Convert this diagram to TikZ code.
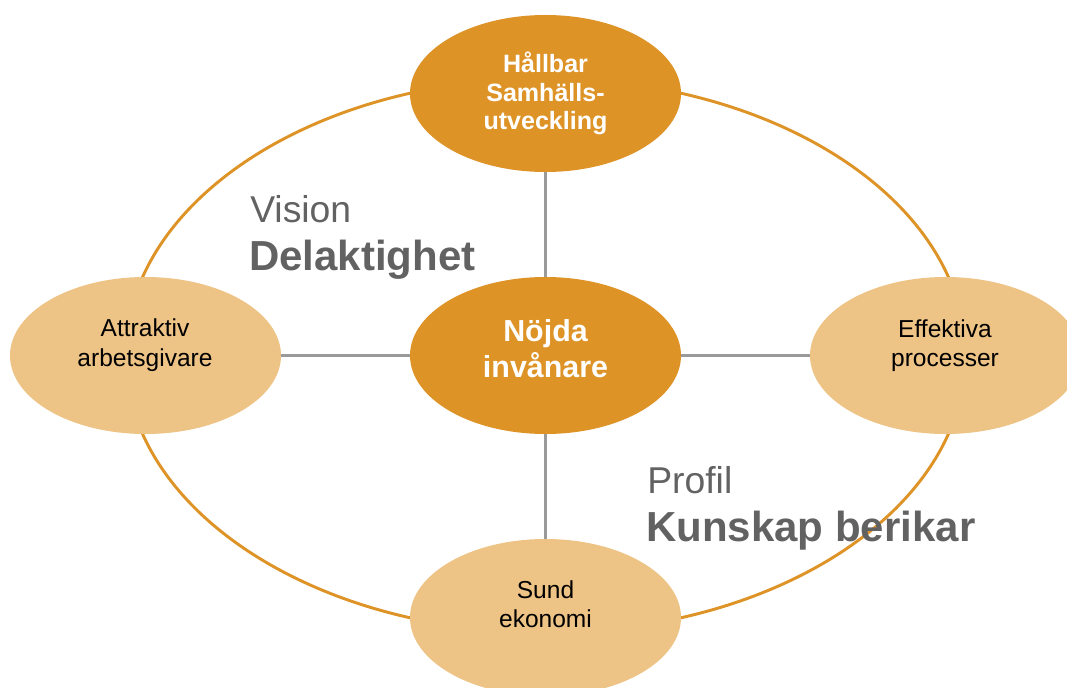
\documentclass[tikz,border=0pt]{standalone}
\usepackage{fontspec}
\setmainfont{Liberation Sans}
\usetikzlibrary{shapes.geometric}
\definecolor{darkor}{HTML}{DE9327}
\definecolor{lightor}{HTML}{EEC386}
\definecolor{txtgray}{HTML}{626262}
\definecolor{linegray}{HTML}{9A9A9A}
\tikzset{
  blob/.style={ellipse, minimum width=203.25pt, minimum height=117.75pt, inner sep=0pt},
  mainblob/.style={blob, fill=darkor},
  subblob/.style={blob, fill=lightor},
  spoke/.style={draw=linegray, line width=2.3pt},
  ring/.style={draw=darkor, line width=2.2pt},
  wtxt/.style={anchor=base, inner sep=0pt, text=white, font=\bfseries\fontsize{18.8}{22}\selectfont},
  ctxt/.style={anchor=base, inner sep=0pt, text=white, font=\bfseries\fontsize{22.8}{26}\selectfont},
  btxt/.style={anchor=base, inner sep=0pt, text=black, font=\fontsize{18.4}{22}\selectfont},
  greg/.style={anchor=base west, inner sep=0pt, text=txtgray, font=\fontsize{28}{32}\selectfont},
  gbold/.style={anchor=base west, inner sep=0pt, text=txtgray, font=\bfseries\fontsize{31.5}{36}\selectfont},
}
\begin{document}
\begin{tikzpicture}[x=0.75pt,y=-0.75pt]
\useasboundingbox (0,0) rectangle (1067,688);
\coordinate (mid) at (545.5,355.5);
\draw[ring] (mid) ellipse [x radius=315pt, y radius=207.75pt];
\node[mainblob] (top) at (545.5,93.5) {};
\node[mainblob] (ctr) at (545.5,355.5) {};
\node[subblob] (lft) at (145.5,355.5) {};
\node[subblob] (rgt) at (945.5,355.5) {};
\node[subblob] (bot) at (545.5,617.5) {};
\draw[spoke] (ctr) -- (top);
\draw[spoke] (ctr) -- (lft);
\draw[spoke] (ctr) -- (rgt);
\draw[spoke] (ctr) -- (bot);
% texts
\node[wtxt] (t1) at (545.5,73) {Hållbar};
\node[wtxt] (t2) at (545.5,102) {Samhälls-};
\node[wtxt] (t3) at (545.5,130) {utveckling};
\node[ctxt] (c1) at (545.5,341.7) {Nöjda};
\node[ctxt] (c2) at (545.5,377) {invånare};
\node[btxt] (l1) at (145,336) {Attraktiv};
\node[btxt] (l2) at (145,366) {arbetsgivare};
\node[btxt] (r1) at (945,337) {Effektiva};
\node[btxt] (r2) at (945,366) {processer};
\node[btxt] (b1) at (545.5,598) {Sund};
\node[btxt] (b2) at (545.5,627) {ekonomi};
\node[greg] (vis) at (250,223) {Vision};
\node[gbold] (del) at (249,270) {Delaktighet};
\node[greg] (pro) at (647,493) {Profil};
\node[gbold] (kun) at (646,541) {Kunskap berikar};
\end{tikzpicture}
\end{document}
